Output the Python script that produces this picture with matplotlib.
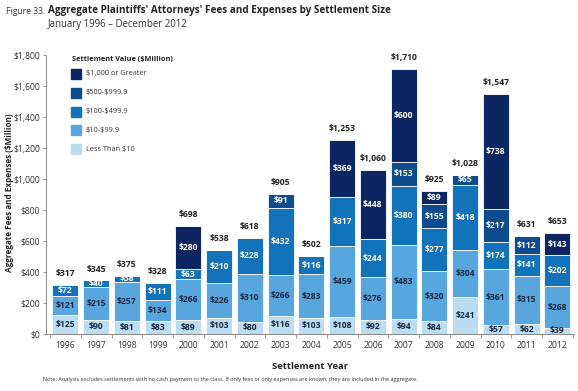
import numpy as np
import matplotlib
matplotlib.use("Agg")
import matplotlib.pyplot as plt
from matplotlib.patches import Rectangle

plt.rcParams['font.family'] = ['Open Sans', 'DejaVu Sans']
plt.rcParams['text.parse_math'] = False

years = ['1996', '1997', '1998', '1999', '2000', '2001', '2002', '2003', '2004',
         '2005', '2006', '2007', '2008', '2009', '2010', '2011', '2012']
# segments bottom to top
less10 = [125, 90, 81, 83, 89, 103, 80, 116, 103, 108, 92, 94, 84, 241, 57, 62, 39]
s10_99 = [121, 215, 257, 134, 266, 226, 310, 266, 283, 459, 276, 483, 320, 304, 361, 315, 268]
s100_499 = [72, 40, 38, 111, 63, 210, 228, 432, 116, 317, 244, 380, 277, 418, 174, 141, 202]
s500_999 = [0, 0, 0, 0, 0, 0, 0, 91, 0, 0, 0, 153, 155, 65, 217, 112, 0]
s1000 = [0, 0, 0, 0, 280, 0, 0, 0, 0, 369, 448, 600, 89, 0, 738, 0, 143]
totals = [317, 345, 375, 328, 698, 538, 618, 905, 502, 1253, 1060, 1710, 925, 1028, 1547, 631, 653]

series = [less10, s10_99, s100_499, s500_999, s1000]
names = ['Less Than $10', '$10-$99.9', '$100-$499.9', '$500-$999.9', '$1,000 or Greater']
colors = ['#bcdcf1', '#57a6dd', '#1272ba', '#0c4b8c', '#0b2663']
txtcol = ['#1c2a44', '#1c2a44', 'white', 'white', 'white']

fig = plt.figure(figsize=(5.78, 3.91), dpi=100)
ax = fig.add_axes([0.0796, 0.146, 0.914, 0.713])

x = np.arange(len(years))
bottom = np.zeros(len(years))
for vals, c, tc in zip(series, colors, txtcol):
    vals = np.array(vals, dtype=float)
    ax.bar(x, vals, 0.85, bottom=bottom, color=c, edgecolor='white', linewidth=0.6)
    for i, v in enumerate(vals):
        if v > 0:
            ax.text(x[i], bottom[i] + v / 2, '$%d' % v, ha='center', va='center',
                    fontsize=6.2, fontweight='bold', color=tc)
    bottom += vals

for i, t in enumerate(totals):
    ax.text(x[i], bottom[i] + 45, '${:,}'.format(t), ha='center', va='bottom',
            fontsize=6.2, fontweight='bold', color='#222222')

ax.set_xlim(-0.63, 16.55)
ax.set_ylim(0, 1800)
yt = np.arange(0, 1801, 200)
ax.set_yticks(yt)
ax.set_yticklabels(['${:,}'.format(v) for v in yt], fontsize=6.2, color='#333333')
ax.set_xticks(x)
ax.set_xticklabels(years, fontsize=6.2, color='#333333')
ax.tick_params(axis='x', length=0, pad=5)
ax.tick_params(axis='y', length=2, width=0.6, color='#888888', pad=2)
ax.set_xticks(np.arange(-0.5, 16.6, 1), minor=True)
ax.tick_params(axis='x', which='minor', length=3, width=0.6, color='#888888')
for s in ['top', 'right']:
    ax.spines[s].set_visible(False)
for s in ['left', 'bottom']:
    ax.spines[s].set_color('#888888')
    ax.spines[s].set_linewidth(0.7)

ax.set_xlabel('Settlement Year', fontsize=6.8, fontweight='bold', color='#222222', labelpad=9)
fig.text(10 / 578, 1 - 193 / 391, 'Aggregate Fees and Expenses ($Million)', fontsize=5.9,
         fontweight='bold', color='#222222', rotation=90, ha='center', va='center')

# legend
fig.text(72 / 578, 1 - 59 / 391, 'Settlement Value ($Million)', fontsize=5.3,
         fontweight='bold', color='#222222', va='center')
for k in range(5):
    j = 4 - k
    yc = 74 + k * 18.8
    fig.patches.append(Rectangle((71 / 578, 1 - (yc + 5) / 391), 10 / 578, 10 / 391,
                                 transform=fig.transFigure, color=colors[j]))
    fig.text(86 / 578, 1 - yc / 391, names[j], fontsize=5.3, color='#333333', va='center')

fig.text(6 / 578, 1 - 11 / 391, 'Figure 33.', fontsize=6.2, color='#333333', va='center')
fig.text(48 / 578, 1 - 11 / 391, "Aggregate Plaintiffs' Attorneys' Fees and Expenses by Settlement Size",
         fontsize=7.1, fontweight='bold', color='#222222', va='center')
fig.text(48 / 578, 1 - 24 / 391, 'January 1996 \u2013 December 2012', fontsize=6.9,
         color='#333333', va='center')
fig.text(43 / 578, 1 - 380 / 391,
         'Note: Analysis excludes settlements with no cash payment to the class. '
         'If only fees or only expenses are known, they are included in the aggregate.',
         fontsize=4.0, color='#333333', va='center')

fig.savefig('out.png', dpi=100)
